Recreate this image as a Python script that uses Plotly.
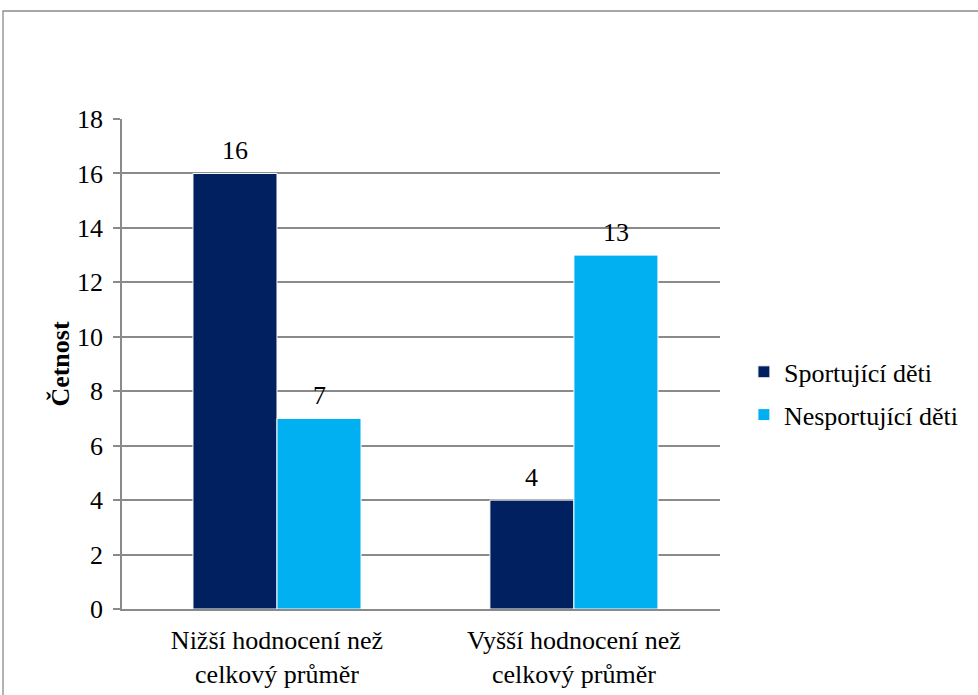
import plotly.graph_objects as go

categories = ["Nižší hodnocení než<br>celkový průměr", "Vyšší hodnocení než<br>celkový průměr"]
series_names = ["Sportující děti", "Nesportující děti"]
sportujici = [16, 4]
nesportujici = [7, 13]
colors = ["#002060", "#00B0F0"]
y_ticks = [0, 2, 4, 6, 8, 10, 12, 14, 16, 18]

FONT = "Liberation Serif"
FS = 26
xpos = list(range(len(categories)))
bargap = 0.434
bw = (1 - bargap) / 2

fig = go.Figure()
annotations = []
for k, (name, vals, col) in enumerate(zip(series_names, [sportujici, nesportujici], colors)):
    fig.add_trace(go.Bar(
        x=xpos, y=vals, name=name, legendgroup=name,
        marker=dict(color=col, line=dict(color="white", width=1)),
    ))
    off = (k - 0.5) * bw
    for xi, v in zip(xpos, vals):
        annotations.append(dict(
            x=xi + off, y=v, xref="x", yref="y", text=str(v), showarrow=False,
            yanchor="bottom", yshift=6, font=dict(family=FONT, size=FS, color="#000"),
        ))

fig.update_layout(
    width=978, height=695,
    margin=dict(l=122, r=258, t=119, b=86),
    paper_bgcolor="white", plot_bgcolor="white",
    barmode="group", bargap=bargap, bargroupgap=0,
    font=dict(family=FONT, size=FS, color="#000"),
    showlegend=True,
    legend=dict(x=1.04, y=0.44, xanchor="left", yanchor="middle",
                font=dict(family=FONT, size=FS, color="#000"),
                tracegroupgap=6, bgcolor="rgba(0,0,0,0)"),
    annotations=annotations,
    shapes=[dict(type="rect", xref="paper", yref="paper",
                 x0=(3 - 122) / 598, x1=(990 - 122) / 598,
                 y0=(609 - 710) / 490, y1=(609 - 11) / 490,
                 line=dict(color="#8a8a8a", width=1.3), fillcolor="rgba(0,0,0,0)", layer="below")],
)
fig.update_xaxes(
    tickmode="array", tickvals=xpos, ticktext=categories,
    range=[-0.522, 1.492], automargin=False,
    showline=True, linecolor="#8a8a8a", linewidth=1.5,
    ticks="", showgrid=False, tickfont=dict(family=FONT, size=FS), ticklabelstandoff=7,
)
fig.update_yaxes(
    range=[0, 18], tickmode="array", tickvals=y_ticks, automargin=False,
    showline=True, linecolor="#8a8a8a", linewidth=1.5,
    ticks="outside", ticklen=7, tickcolor="#8a8a8a", tickwidth=1.5,
    showgrid=True, gridcolor="#8a8a8a", gridwidth=1.5, zeroline=False,
    tickfont=dict(family=FONT, size=FS), ticklabelstandoff=5,
    title=dict(text="<b>Četnost</b>", font=dict(family=FONT, size=FS), standoff=0),
)
fig.write_html("out.html")
